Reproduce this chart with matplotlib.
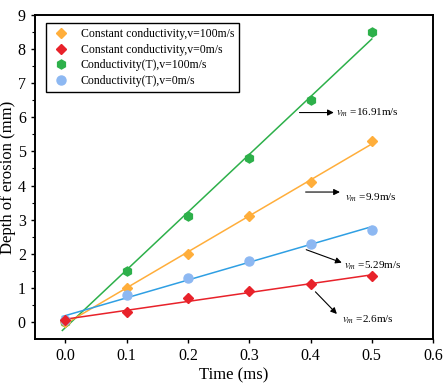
import matplotlib.pyplot as plt
import numpy as np

plt.rcParams['font.family'] = ['Liberation Serif', 'DejaVu Serif']
plt.rcParams['mathtext.fontset'] = 'stix'

time = [0.0, 0.1, 0.2, 0.3, 0.4, 0.5]
const_v100 = [0.0, 1.0, 2.0, 3.1, 4.1, 5.3]
const_v0 = [0.05, 0.3, 0.7, 0.9, 1.1, 1.35]
condT_v100 = [0.0, 1.5, 3.1, 4.8, 6.5, 8.5]
condT_v0 = [0.05, 0.8, 1.3, 1.8, 2.3, 2.7]

labels = ['Constant conductivity,v=100m/s', 'Constant conductivity,v=0m/s',
          'Conductivity(T),v=100m/s', 'Conductivity(T),v=0m/s']
speeds = ['16.91', '9.9', '5.29', '2.6']

fig = plt.figure(figsize=(4.46, 3.84), dpi=100)
ax = fig.add_axes([0.078, 0.117, 0.893, 0.844])

t = np.array(time)
tl = np.array([-0.005, 0.5])

series = [
    (condT_v100, 'h', '#2DB04A', '#2DB04A', labels[2]),
    (const_v100, 'D', '#FFAE3B', '#FFAE3B', labels[0]),
    (condT_v0, 'o', '#8DB8F2', '#2F9FE3', labels[3]),
    (const_v0, 'D', '#E8222A', '#E8222A', labels[1]),
]
handles = {}
for vals, mk, mc, lc, lab in series:
    y = np.array(vals)
    k, b = np.polyfit(t, y, 1)
    ax.plot(tl, k * tl + b, color=lc, lw=1.1, zorder=2)
    ms = 5.5 if mk == 'D' else 6.5
    h, = ax.plot(t, y, mk, color=mc, ms=ms, ls='none', zorder=3, label=lab)
    handles[lab] = h

leg = ax.legend([handles[l] for l in labels], labels, loc='upper left',
                bbox_to_anchor=(0.028, 0.975), fontsize=8.5, frameon=True,
                fancybox=False, edgecolor='black', framealpha=1,
                handletextpad=0.9, borderpad=0.45, labelspacing=0.3,
                handlelength=1.6, borderaxespad=0)
leg.get_frame().set_linewidth(1.0)

# arrow start, arrow end, text position (left, vertical centre)
arrows = [
    ((0.382, 6.14), (0.438, 6.14), (0.441, 6.12)),
    ((0.392, 3.81), (0.448, 3.81), (0.457, 3.64)),
    ((0.393, 2.12), (0.451, 1.74), (0.454, 1.66)),
    ((0.408, 0.885), (0.443, 0.236), (0.452, 0.08)),
]
for (start, end, txtpos), sp in zip(arrows, speeds):
    ax.annotate('', xy=end, xytext=start,
                arrowprops=dict(arrowstyle='-|>', color='black', lw=0.8,
                                mutation_scale=9, shrinkA=0, shrinkB=0))
    ax.text(txtpos[0], txtpos[1], r'$v_{m}$ =' + sp + 'm/s', fontsize=8,
            va='center', ha='left')

ax.set_xlim(-0.05, 0.6)
ax.set_ylim(-0.5, 9)
ax.set_xticks([0.0, 0.1, 0.2, 0.3, 0.4, 0.5, 0.6])
ax.set_yticks(range(0, 10))
ax.set_yticks(np.arange(0.5, 9, 1), minor=True)
ax.tick_params(axis='both', which='major', direction='out', length=3,
               width=1, labelsize=11.5)
ax.tick_params(axis='y', which='minor', direction='out', length=2, width=0.8)
for s in ax.spines.values():
    s.set_linewidth(1.4)

ax.set_xlabel('Time (ms)', fontsize=12)
ax.set_ylabel('Depth of erosion (mm)', fontsize=12)
ax.xaxis.set_label_coords(0.5, -0.086)
ax.yaxis.set_label_coords(-0.048, 0.5)

fig.savefig('out.png', dpi=100)
